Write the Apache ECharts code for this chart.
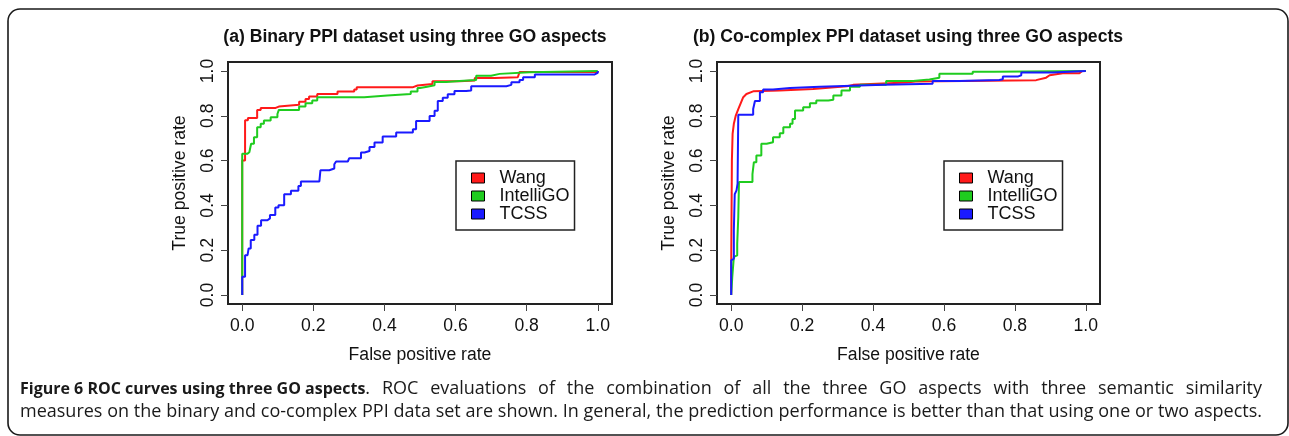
<!DOCTYPE html>
<html>
<head>
<meta charset="utf-8">
<script src="https://cdn.jsdelivr.net/npm/echarts@6/dist/echarts.min.js"></script>
<style>
  html, body { margin: 0; padding: 0; background: #ffffff; }
  #chart { width: 1289px; height: 436px; }
</style>
</head>
<body>
<div id="chart"></div>
<script>
// Series names and colours shared by both panels
const seriesNames = ['Wang', 'IntelliGO', 'TCSS'];
const seriesColors = ['#ff1a1a', '#1fcc1f', '#1a1aff'];

// Axis ticks
const tickValues = [0, 0.2, 0.4, 0.6, 0.8, 1.0];
const tickLabels = ['0.0', '0.2', '0.4', '0.6', '0.8', '1.0'];

// Text
const panelTitles = [
  '(a) Binary PPI dataset using three GO aspects',
  '(b) Co-complex PPI dataset using three GO aspects'
];
const xAxisTitle = 'False positive rate';
const yAxisTitle = 'True positive rate';
const captionBold = 'Figure 6 ROC curves using three GO aspects';
const captionLine1 = '. ROC evaluations of the combination of all the three GO aspects with three semantic similarity';
const captionLine2 = 'measures on the binary and co-complex PPI data set are shown. In general, the prediction performance is better than that using one or two aspects.';

// (a) Binary PPI dataset: [false positive rate, true positive rate]
const binaryWang = [
  [0, 0], [0, 0.60], [0.008, 0.78], [0.016, 0.79], [0.042, 0.826], [0.052, 0.835],
  [0.094, 0.841], [0.103, 0.849], [0.16, 0.863], [0.178, 0.875], [0.188, 0.886],
  [0.211, 0.897], [0.268, 0.908], [0.315, 0.917], [0.322, 0.927], [0.479, 0.935],
  [0.493, 0.942], [0.535, 0.954], [0.611, 0.957], [0.654, 0.969], [0.71, 0.972],
  [0.775, 0.979], [0.78, 0.995], [0.99, 0.995], [1, 1]
];
const binaryIntelliGO = [
  [0, 0], [0, 0.63], [0.014, 0.637], [0.02, 0.645], [0.025, 0.675], [0.033, 0.704],
  [0.042, 0.749], [0.052, 0.764], [0.061, 0.779], [0.080, 0.793], [0.099, 0.808],
  [0.103, 0.826], [0.16, 0.841], [0.178, 0.856], [0.197, 0.868], [0.211, 0.883],
  [0.343, 0.89], [0.408, 0.897], [0.474, 0.908], [0.493, 0.924], [0.50, 0.93],
  [0.52, 0.936], [0.541, 0.951], [0.574, 0.955], [0.611, 0.96], [0.658, 0.979],
  [0.70, 0.987], [0.724, 0.994], [0.808, 1.0], [1, 1]
];
const binaryTCSS = [
  [0, 0], [0, 0.082], [0.008, 0.178], [0.015, 0.185], [0.018, 0.208], [0.024, 0.246],
  [0.034, 0.269], [0.043, 0.309], [0.053, 0.334], [0.071, 0.342], [0.078, 0.357],
  [0.093, 0.391], [0.102, 0.401], [0.118, 0.45], [0.137, 0.465], [0.158, 0.487],
  [0.165, 0.507], [0.217, 0.514], [0.22, 0.557], [0.245, 0.565], [0.259, 0.584],
  [0.264, 0.596], [0.297, 0.603], [0.301, 0.611], [0.334, 0.636], [0.344, 0.643],
  [0.358, 0.661], [0.372, 0.681], [0.395, 0.708], [0.433, 0.725], [0.48, 0.74],
  [0.489, 0.777], [0.527, 0.799], [0.541, 0.822], [0.55, 0.866], [0.564, 0.881],
  [0.578, 0.896], [0.597, 0.911], [0.63, 0.913], [0.644, 0.932], [0.743, 0.938],
  [0.757, 0.95], [0.78, 0.96], [0.79, 0.972], [0.823, 0.984], [0.99, 0.992], [1, 1]
];

// (b) Co-complex PPI dataset: [false positive rate, true positive rate]
const complexWang = [
  [0, 0], [0, 0.12], [0.002, 0.60], [0.004, 0.719], [0.0075, 0.764], [0.013, 0.801],
  [0.02, 0.83], [0.034, 0.883], [0.043, 0.897], [0.062, 0.909], [0.137, 0.913],
  [0.231, 0.92], [0.326, 0.932], [0.344, 0.938], [0.493, 0.948], [0.52, 0.953],
  [0.86, 0.959], [0.888, 0.97], [0.898, 0.981], [0.935, 0.99], [0.982, 0.99],
  [0.99, 1.0], [1, 1]
];
const complexIntelliGO = [
  [0, 0], [0.003, 0.079], [0.0075, 0.17], [0.013, 0.177], [0.017, 0.229], [0.02, 0.348],
  [0.022, 0.504], [0.06, 0.54], [0.064, 0.593], [0.071, 0.623], [0.085, 0.675],
  [0.1, 0.682], [0.118, 0.704], [0.137, 0.722], [0.147, 0.749], [0.166, 0.764],
  [0.173, 0.786], [0.18, 0.823], [0.203, 0.838], [0.222, 0.856], [0.24, 0.868],
  [0.274, 0.872], [0.288, 0.89], [0.311, 0.913], [0.335, 0.93], [0.363, 0.939],
  [0.437, 0.955], [0.513, 0.962], [0.559, 0.97], [0.587, 0.988], [0.681, 0.997],
  [0.74, 1.0], [1, 1]
];
const complexTCSS = [
  [0, 0], [0, 0.155], [0.004, 0.162], [0.0075, 0.29], [0.01, 0.45], [0.015, 0.467],
  [0.018, 0.497], [0.02, 0.805], [0.062, 0.83], [0.067, 0.866], [0.081, 0.905],
  [0.09, 0.917], [0.118, 0.924], [0.166, 0.93], [0.25, 0.938], [0.43, 0.943],
  [0.568, 0.955], [0.643, 0.96], [0.756, 0.963], [0.766, 0.975], [0.808, 0.981],
  [0.818, 0.993], [0.907, 1.0], [1, 1]
];

const panelData = [
  [binaryWang, binaryIntelliGO, binaryTCSS],
  [complexWang, complexIntelliGO, complexTCSS]
];
const panelStep = [
  ['end', 'end', 'end'],
  [false, 'end', 'end']
];

const FONT = '"Liberation Sans", Arial, Helvetica, sans-serif';
const CAPTION_FONT = '"Open Sans", "Noto Sans", sans-serif';
const INK = '#111111';

const grids = [
  { left: 228, top: 62, width: 384, height: 242 },
  { left: 717, top: 62, width: 383, height: 242 }
];

function tickText(v) {
  const i = tickValues.findIndex(t => Math.abs(t - v) < 1e-9);
  return i >= 0 ? tickLabels[i] : '';
}

// Caption lines are set justified: word widths are measured and the
// remaining room is shared out between the spaces of the body text
// (the bold heading keeps its natural spacing).
const measureCtx = document.createElement('canvas').getContext('2d');
const captionStyles = {
  b: { fontFamily: CAPTION_FONT, fontSize: 16, fontWeight: 'bold', fill: '#1a1a1a' },
  n: { fontFamily: CAPTION_FONT, fontSize: 18, fontWeight: 'normal', fill: '#1a1a1a' }
};
function fontOf(key) {
  const s = captionStyles[key];
  return s.fontWeight + ' ' + s.fontSize + 'px ' + s.fontFamily;
}
function justifiedLine(segments, totalWidth) {
  const tokens = [];
  segments.forEach(([key, text, stretch]) => {
    if (!stretch) { tokens.push({ key, text }); return; }
    text.split(/( )/).forEach(part => {
      if (part === ' ') tokens.push({ space: true });
      else if (part) tokens.push({ key, text: part });
    });
  });
  let used = 0, spaces = 0;
  tokens.forEach(t => {
    if (t.space) { spaces++; return; }
    measureCtx.font = fontOf(t.key);
    used += measureCtx.measureText(t.text).width;
  });
  const gap = spaces ? (totalWidth - used) / spaces : 0;
  const rich = Object.assign({}, captionStyles, {
    s: { width: gap, fontFamily: CAPTION_FONT, fontSize: 18 }
  });
  const text = tokens.map(t => t.space ? '{s| }' : '{' + t.key + '|' + t.text + '}').join('');
  return { text, rich };
}
const capWidth = 1242;
const cap1 = justifiedLine([['b', captionBold, false], ['n', captionLine1, true]], capWidth);
const cap2 = justifiedLine([['n', captionLine2, true]], capWidth);

const option = {
  backgroundColor: '#ffffff',
  animation: false,
  title: panelTitles.map((t, i) => ({
    text: t,
    left: i === 0 ? 415 : 908,
    top: 28,
    padding: 0,
    textAlign: 'center',
    textStyle: { fontFamily: FONT, fontSize: 17.6, fontWeight: 'bold', color: INK }
  })),
  grid: grids.map(g => Object.assign({
    show: true, borderColor: '#222222', borderWidth: 2, backgroundColor: 'transparent'
  }, g)),
  xAxis: grids.map((g, i) => ({
    type: 'value', gridIndex: i, min: -0.04, max: 1.04,
    name: xAxisTitle, nameLocation: 'middle', nameGap: 42,
    nameTextStyle: { fontFamily: FONT, fontSize: 17.6, color: INK },
    axisLine: { show: false, onZero: false },
    splitLine: { show: false },
    axisTick: { show: true, inside: false, length: 7, customValues: tickValues,
                lineStyle: { color: '#444444', width: 1 } },
    axisLabel: { show: true, customValues: tickValues, formatter: tickText, margin: 13,
                 fontFamily: FONT, fontSize: 17.6, color: INK }
  })),
  yAxis: grids.map((g, i) => ({
    type: 'value', gridIndex: i, min: -0.04, max: 1.04,
    name: yAxisTitle, nameLocation: 'middle', nameGap: 39, nameRotate: 90,
    nameTextStyle: { fontFamily: FONT, fontSize: 17.6, color: INK },
    axisLine: { show: false, onZero: false },
    splitLine: { show: false },
    axisTick: { show: true, inside: false, length: 7, customValues: tickValues,
                lineStyle: { color: '#444444', width: 1 } },
    axisLabel: { show: true, rotate: 90, customValues: tickValues, formatter: tickText, margin: 11,
                 fontFamily: FONT, fontSize: 17.6, color: INK }
  })),
  legend: [456, 944].map(x => ({
    data: seriesNames,
    orient: 'vertical',
    left: x, top: 161,
    icon: 'rect',
    itemWidth: 13, itemHeight: 10, itemGap: 0,
    padding: [8, 5, 7, 15],
    borderColor: '#222222', borderWidth: 1.5,
    itemStyle: { borderColor: '#000000', borderWidth: 1 },
    textStyle: { fontFamily: FONT, fontSize: 18, lineHeight: 18, color: INK, padding: [0, 0, 0, 10] },
    selectedMode: false
  })),
  series: panelData.flatMap((sets, p) => sets.map((d, k) => ({
    name: seriesNames[k],
    type: 'line',
    xAxisIndex: p, yAxisIndex: p,
    data: d,
    step: panelStep[p][k],
    showSymbol: false,
    symbol: 'none',
    color: seriesColors[k],
    lineStyle: { color: seriesColors[k], width: 2 },
    emphasis: { disabled: true },
    z: 2 + k
  }))),
  graphic: [
    {
      type: 'rect',
      shape: { x: 8, y: 9, width: 1280, height: 426, r: 12 },
      style: { fill: 'none', stroke: '#1a1a1a', lineWidth: 1.6 },
      silent: true
    },
    {
      type: 'text', x: 20, y: 389,
      style: { text: cap1.text, rich: cap1.rich, verticalAlign: 'middle' },
      silent: true
    },
    {
      type: 'text', x: 20, y: 412,
      style: { text: cap2.text, rich: cap2.rich, verticalAlign: 'middle' },
      silent: true
    }
  ]
};

const chart = echarts.init(document.getElementById('chart'), null, { renderer: 'canvas' });
chart.setOption(option);
</script>
</body>
</html>
